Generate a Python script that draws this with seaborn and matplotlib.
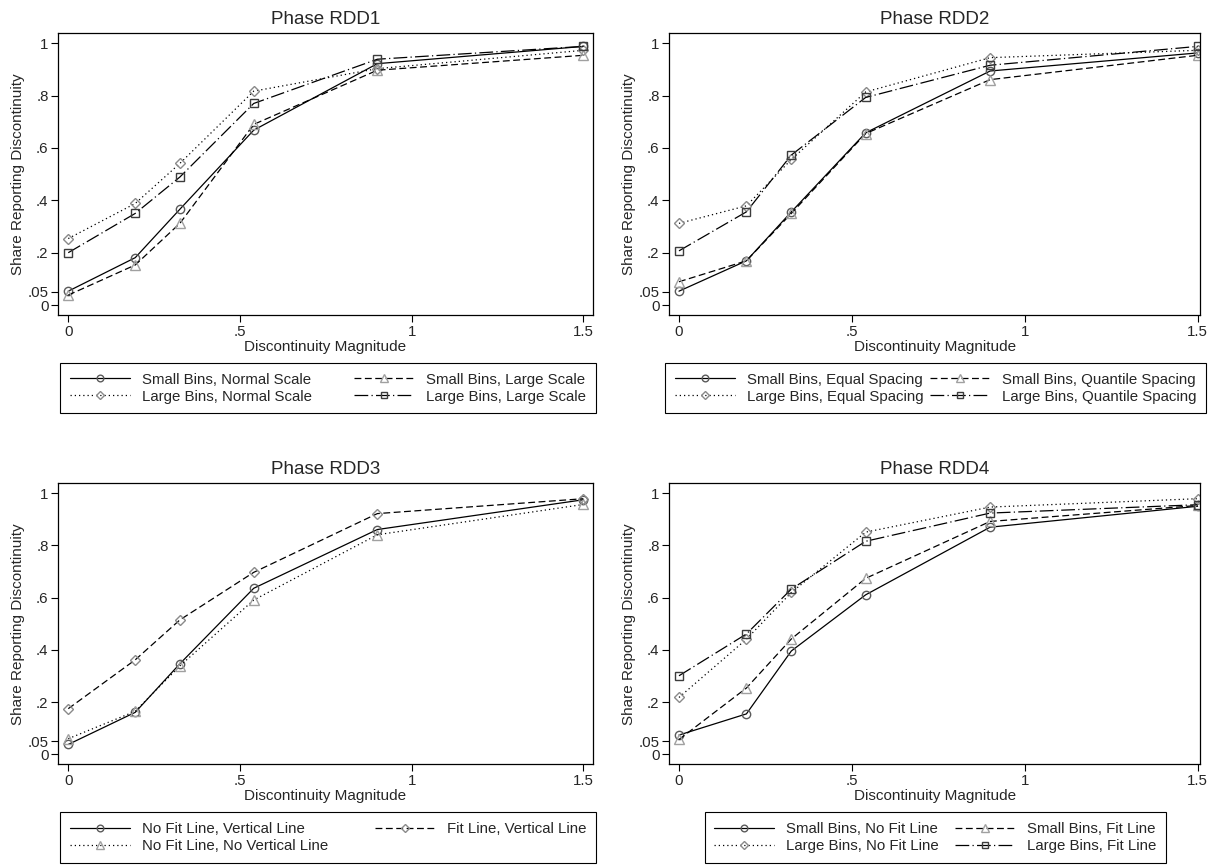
import numpy as np
import pandas as pd
import matplotlib.pyplot as plt
import seaborn as sns

# --------------------------------------------------------------
# Data
# --------------------------------------------------------------

magnitude = [0, 0.195, 0.325, 0.54, 0.9, 1.5]

# Phase RDD1
rdd1_small_normal = [0.053, 0.181, 0.366, 0.668, 0.922, 0.988]
rdd1_small_large = [0.038, 0.153, 0.312, 0.690, 0.897, 0.954]
rdd1_large_normal = [0.254, 0.388, 0.541, 0.817, 0.903, 0.973]
rdd1_large_large = [0.200, 0.350, 0.489, 0.770, 0.939, 0.988]

# Phase RDD2
rdd2_small_equal = [0.053, 0.169, 0.356, 0.658, 0.894, 0.963]
rdd2_small_quantile = [0.089, 0.169, 0.350, 0.655, 0.861, 0.954]
rdd2_large_equal = [0.312, 0.379, 0.556, 0.814, 0.945, 0.973]
rdd2_large_quantile = [0.207, 0.356, 0.573, 0.793, 0.916, 0.988]

# Phase RDD3
rdd3_nofit_vline = [0.038, 0.161, 0.347, 0.636, 0.861, 0.975]
rdd3_nofit_novline = [0.060, 0.165, 0.339, 0.591, 0.841, 0.957]
rdd3_fit_vline = [0.175, 0.362, 0.515, 0.697, 0.922, 0.979]

# Phase RDD4
rdd4_small_nofit = [0.074, 0.155, 0.396, 0.611, 0.870, 0.950]
rdd4_small_fit = [0.057, 0.254, 0.442, 0.674, 0.892, 0.953]
rdd4_large_nofit = [0.218, 0.441, 0.620, 0.851, 0.947, 0.979]
rdd4_large_fit = [0.301, 0.461, 0.633, 0.816, 0.924, 0.956]

ytick_vals = [0, 0.05, 0.2, 0.4, 0.6, 0.8, 1]
ytick_labels = ["0", ".05", ".2", ".4", ".6", ".8", "1"]
xtick_vals = [0, 0.5, 1, 1.5]
xtick_labels = ["0", ".5", "1", "1.5"]

# --------------------------------------------------------------
# Styles
# --------------------------------------------------------------

STYLES = {
    "circle": dict(marker="o", mec="#5a5a5a", ls="-", ms=6),
    "triangle": dict(marker="^", mec="#a0a0a0", ls=(0, (5.5, 2.8)), ms=6.5),
    "diamond": dict(marker="D", mec="#8a8a8a", ls=(0, (1, 2.4)), ms=4.8),
    "square": dict(marker="s", mec="#3c3c3c", ls=(0, (11, 2.6, 1, 2.6)), ms=6),
}
STYLES["diamond_dash"] = dict(STYLES["diamond"], ls=(0, (5.5, 2.8)))
STYLES["triangle_dot"] = dict(STYLES["triangle"], ls=(0, (1, 2.4)))

W, H = 1209, 865

sns.set_theme(style="white")
plt.rcParams["font.family"] = ["Liberation Sans", "DejaVu Sans"]
plt.rcParams["axes.edgecolor"] = "black"
plt.rcParams["axes.linewidth"] = 0.9


def px_rect(left, top, right, bottom):
    return [left / W, 1 - bottom / H, (right - left) / W, (bottom - top) / H]


def draw_panel(fig, rect, xlim, title, series, legend_box, legend_top):
    ax = fig.add_axes(px_rect(*rect))
    handles = []
    for values, label, style in series:
        st = STYLES[style]
        df = pd.DataFrame({"x": magnitude, "y": values})
        sns.lineplot(
            data=df, x="x", y="y", ax=ax, color="black", lw=0.9,
            linestyle=st["ls"], marker=st["marker"], markersize=st["ms"],
            mfc="none", mec=st["mec"], mew=1.0, label=label,
        )
        handles.append(ax.lines[-1])
    ax.get_legend().remove()

    ax.set_xlim(*xlim)
    ax.set_ylim(-0.038, 1.038)
    ax.set_xticks(xtick_vals, xtick_labels)
    ax.set_yticks(ytick_vals, ytick_labels)
    ax.tick_params(axis="both", direction="out", length=5, width=0.8,
                   labelsize=10.8, color="black", pad=2,
                   bottom=True, left=True)
    ax.set_xlabel("Discontinuity Magnitude", fontsize=11, labelpad=1)
    ax.set_ylabel("Share Reporting Discontinuity", fontsize=11, labelpad=2)
    ax.set_title(title, fontsize=13.5, pad=7)
    for s in ax.spines.values():
        s.set_color("black")

    x0, x1 = legend_box
    leg = fig.legend(
        handles=handles, labels=[h.get_label() for h in handles],
        loc="upper left",
        bbox_to_anchor=(x0 / W, 1 - legend_top / H, (x1 - x0) / W, 0),
        bbox_transform=fig.transFigure, mode="expand", ncol=2,
        fontsize=10.8, handlelength=4.0, handletextpad=0.8,
        numpoints=1, markerscale=0.8, borderaxespad=0, borderpad=0.65,
        labelspacing=0.2, fancybox=False, framealpha=1,
        edgecolor="black",
    )
    leg.get_frame().set_linewidth(0.8)
    return ax


fig = plt.figure(figsize=(W / 100, H / 100), dpi=100)

draw_panel(
    fig, (58.3, 33.3, 592.7, 315), (-0.029, 1.527), "Phase RDD1",
    [
        (rdd1_small_normal, "Small Bins, Normal Scale", "circle"),
        (rdd1_large_normal, "Large Bins, Normal Scale", "diamond"),
        (rdd1_small_large, "Small Bins, Large Scale", "triangle"),
        (rdd1_large_large, "Large Bins, Large Scale", "square"),
    ],
    (60, 596), 363,
)

draw_panel(
    fig, (669.3, 33.3, 1200, 315), (-0.028, 1.507), "Phase RDD2",
    [
        (rdd2_small_equal, "Small Bins, Equal Spacing", "circle"),
        (rdd2_large_equal, "Large Bins, Equal Spacing", "diamond"),
        (rdd2_small_quantile, "Small Bins, Quantile Spacing", "triangle"),
        (rdd2_large_quantile, "Large Bins, Quantile Spacing", "square"),
    ],
    (665, 1206), 363,
)

draw_panel(
    fig, (58.3, 483.3, 592.7, 764.3), (-0.029, 1.527), "Phase RDD3",
    [
        (rdd3_nofit_vline, "No Fit Line, Vertical Line", "circle"),
        (rdd3_nofit_novline, "No Fit Line, No Vertical Line", "triangle_dot"),
        (rdd3_fit_vline, "Fit Line, Vertical Line", "diamond_dash"),
    ],
    (60, 596), 812,
)

draw_panel(
    fig, (669.3, 483.3, 1200, 764.3), (-0.028, 1.507), "Phase RDD4",
    [
        (rdd4_small_nofit, "Small Bins, No Fit Line", "circle"),
        (rdd4_large_nofit, "Large Bins, No Fit Line", "diamond"),
        (rdd4_small_fit, "Small Bins, Fit Line", "triangle"),
        (rdd4_large_fit, "Large Bins, Fit Line", "square"),
    ],
    (704.5, 1166), 812,
)

fig.savefig("out.png", dpi=100, facecolor="white")
